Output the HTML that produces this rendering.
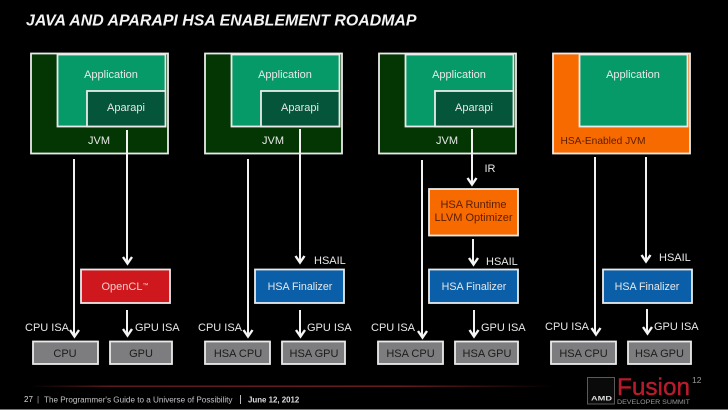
<!DOCTYPE html>
<html><head><meta charset="utf-8"><style>
html,body{margin:0;padding:0;background:#000;width:728px;height:410px;overflow:hidden}
svg{display:block;filter:blur(.3px)}
text{font-family:"Liberation Sans",sans-serif;font-size:11px;fill:#e8e8e8}
</style></head><body>
<svg width="728" height="410" viewBox="0 0 728 410" xmlns="http://www.w3.org/2000/svg">
<defs>
<linearGradient id="r" x1="0" x2="1" y1="0" y2="0"><stop offset="0" stop-color="#000"/><stop offset=".15" stop-color="#5a1a1e"/><stop offset=".7" stop-color="#6a1c20"/><stop offset="1" stop-color="#000"/></linearGradient>
<g id="h"><path d="M-4.500 -7 L0 -.5 L4.500 -7" fill="none" stroke="#f6f6f6" stroke-width="2.400"/></g>
</defs>
<rect width="728" height="410" fill="#000"/>
<text x="26" y="25.500" style="font-size:15.900px;font-weight:bold;font-style:italic;fill:#f4f4f4">JAVA AND APARAPI HSA ENABLEMENT ROADMAP</text>

<g stroke="#eaeaea" stroke-width="1.800">
<rect x="31" y="53.500" width="137" height="100" fill="#033603"/>
<rect x="57.500" y="54.500" width="108" height="72" fill="#069a68"/>
<rect x="87" y="91" width="78.500" height="35.500" fill="#04553a"/>
<rect x="205" y="53.500" width="137" height="100" fill="#033603"/>
<rect x="231.500" y="54.500" width="108" height="72" fill="#069a68"/>
<rect x="261" y="91" width="78.500" height="35.500" fill="#04553a"/>
<rect x="379" y="53.500" width="137" height="100" fill="#033603"/>
<rect x="405.500" y="54.500" width="108" height="72" fill="#069a68"/>
<rect x="435" y="91" width="78.500" height="35.500" fill="#04553a"/>
<rect x="553" y="53.500" width="137" height="100" fill="#f76a00"/>
<rect x="579.500" y="54.500" width="108" height="72" fill="#069a68"/>
</g>

<g stroke="#eaeaea" stroke-width="1.800">
<rect x="81" y="269.500" width="89" height="33.500" fill="#cf181d"/>
<rect x="255" y="269.500" width="89" height="33.500" fill="#0a5fa8"/>
<rect x="429" y="269.500" width="89" height="33.500" fill="#0a5fa8"/>
<rect x="603" y="269.500" width="89" height="33.500" fill="#0a5fa8"/>
<rect x="429" y="189" width="89" height="46.500" fill="#f76a00"/>
<rect x="33" y="341.500" width="65" height="22.500" fill="#7d7d7f"/>
<rect x="110" y="341.500" width="62" height="22.500" fill="#7d7d7f"/>
<rect x="205" y="341.500" width="65" height="22.500" fill="#7d7d7f"/>
<rect x="282" y="341.500" width="63" height="22.500" fill="#7d7d7f"/>
<rect x="378" y="341.500" width="65" height="22.500" fill="#7d7d7f"/>
<rect x="455" y="341.500" width="63" height="22.500" fill="#7d7d7f"/>
<rect x="551" y="341.500" width="65" height="22.500" fill="#7d7d7f"/>
<rect x="628" y="341.500" width="63" height="22.500" fill="#7d7d7f"/>
</g>

<g stroke="#f2f2f2" stroke-width="2" fill="none">
<path d="M74 159V336M127 130V263M127 310V335"/>
<path d="M248 159V336M300 129V262M300 310V336"/>
<path d="M422 160V336M472 129V184M473 239V264M474 310V336"/>
<path d="M595 157V334M646 157V262M647 309V333"/>
</g>
<use href="#h" x="74.500" y="337"/><use href="#h" x="127.500" y="264"/><use href="#h" x="127.500" y="336"/>
<use href="#h" x="248" y="337"/><use href="#h" x="300" y="263"/><use href="#h" x="300.500" y="337"/>
<use href="#h" x="422.500" y="338"/><use href="#h" x="472" y="185"/><use href="#h" x="473.500" y="265"/><use href="#h" x="474" y="337"/>
<use href="#h" x="596" y="335"/><use href="#h" x="646" y="262"/><use href="#h" x="647.500" y="334"/>

<g text-anchor="middle">
<text x="111" y="78">Application</text><text x="126" y="111">Aparapi</text><text x="99" y="144">JVM</text>
<text x="285" y="78">Application</text><text x="300" y="111">Aparapi</text><text x="273" y="144">JVM</text>
<text x="459" y="78">Application</text><text x="474" y="111">Aparapi</text><text x="447" y="144">JVM</text>
<text x="633" y="78">Application</text>
<text x="603" y="144" style="fill:#5a1e00;font-size:10.200px">HSA-Enabled JVM</text>
<text x="490" y="172">IR</text>
<text x="473.500" y="208" style="fill:#5a1e00">HSA Runtime</text>
<text x="473.500" y="221" style="fill:#5a1e00">LLVM Optimizer</text>
<text x="125" y="290" style="fill:#f3d0d0">OpenCL<tspan font-size="6" dy="-3">™</tspan></text>
<text x="300" y="290" style="font-size:10.700px">HSA Finalizer</text><text x="474" y="290" style="font-size:10.700px">HSA Finalizer</text><text x="647" y="290" style="font-size:10.700px">HSA Finalizer</text>
<text x="65" y="357" style="fill:#1c1c1c">CPU</text><text x="141" y="357" style="fill:#1c1c1c">GPU</text>
<text x="238" y="357" style="fill:#1c1c1c">HSA CPU</text><text x="314" y="357" style="fill:#1c1c1c">HSA GPU</text>
<text x="410.500" y="357" style="fill:#1c1c1c">HSA CPU</text><text x="487" y="357" style="fill:#1c1c1c">HSA GPU</text>
<text x="583.500" y="357" style="fill:#1c1c1c">HSA CPU</text><text x="659.500" y="357" style="fill:#1c1c1c">HSA GPU</text>
</g>
<g>
<text x="314" y="264">HSAIL</text><text x="486" y="265">HSAIL</text><text x="659" y="261">HSAIL</text>
<text x="25" y="331">CPU ISA</text><text x="135" y="331">GPU ISA</text>
<text x="198" y="331">CPU ISA</text><text x="307" y="331">GPU ISA</text>
<text x="371" y="331">CPU ISA</text><text x="481" y="331">GPU ISA</text>
<text x="545" y="330">CPU ISA</text><text x="654" y="330">GPU ISA</text>
</g>

<rect x="30" y="385.500" width="525" height="1.500" fill="url(#r)"/>
<text x="24" y="402" style="font-size:8px;fill:#ddd">27</text>
<text x="37" y="402" style="font-size:8px;fill:#aaa">|</text>
<text x="44" y="402.500" style="font-size:8.150px;fill:#c4c4c4">The Programmer's Guide to a Universe of Possibility</text>
<rect x="240" y="395" width="1" height="9" fill="#bbb"/>
<text x="248" y="402.500" style="font-size:7.900px;font-weight:bold;fill:#ddd">June 12, 2012</text>

<rect x="587.500" y="377.500" width="27" height="26.500" fill="#0a0a0a" stroke="#5a5a5a" stroke-width="1"/>
<text x="591" y="400.500" style="font-size:6px;font-weight:bold;fill:#ddd" textLength="21" lengthAdjust="spacingAndGlyphs">AMD</text>
<text x="617" y="395" style="font-size:24.500px;fill:#b81c2c;stroke:#b81c2c;stroke-width:.4px" textLength="73" lengthAdjust="spacingAndGlyphs">Fusion</text>
<text x="692" y="383" style="font-size:8.500px;fill:#999">12</text>
<text x="617" y="404" style="font-size:6px;fill:#999" textLength="73" lengthAdjust="spacingAndGlyphs">DEVELOPER SUMMIT</text>
<rect x="0" y="409" width="728" height="1" fill="#777"/>
</svg>
</body></html>
